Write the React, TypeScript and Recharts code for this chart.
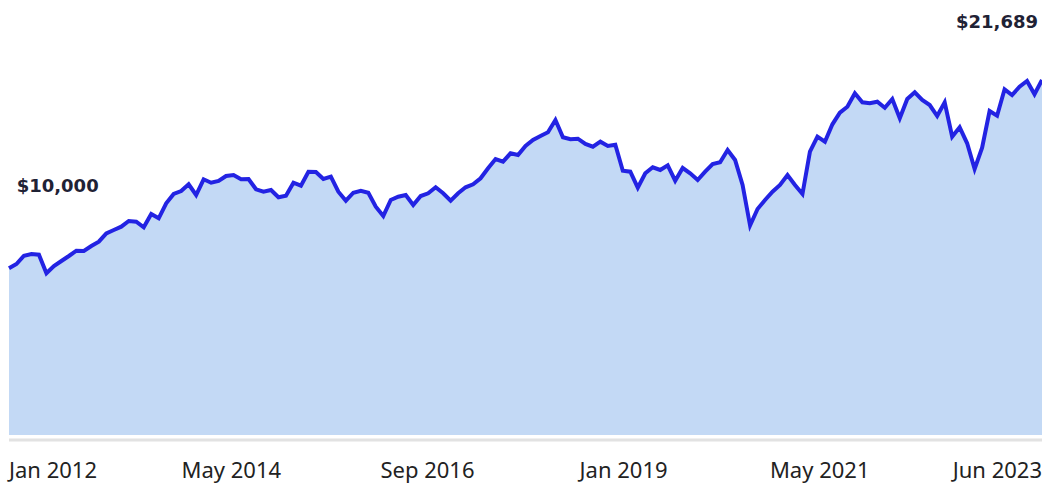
import React from "react";
import { AreaChart, Area, XAxis, YAxis } from "recharts";

// Growth of $10,000 (monthly values)
const VALUES: number[] = [
  10186, 10449, 10956, 11060, 11017, 9880, 10326, 10632, 10937, 11261,
  11250, 11548, 11811, 12324, 12526, 12728, 13076, 13033, 12691, 13504,
  13241, 14157, 14726, 14909, 15318, 14664, 15624, 15416, 15520, 15825,
  15886, 15624, 15642, 15013, 14866, 14970, 14524, 14622, 15416, 15233,
  16088, 16070, 15642, 15783, 14866, 14316, 14805, 14927, 14805, 13950,
  13381, 14359, 14561, 14664, 14053, 14603, 14768, 15135, 14768, 14316,
  14768, 15135, 15318, 15685, 16296, 16864, 16699, 17212, 17108, 17658,
  18025, 18269, 18495, 19247, 18190, 18068, 18104, 17781, 17616, 17921,
  17658, 17738, 16149, 16088, 15111, 15990, 16357, 16192, 16479, 15538,
  16314, 15990, 15581, 16088, 16559, 16662, 17414, 16803, 15275, 12801,
  13809, 14359, 14866, 15275, 15886, 15275, 14726, 17310, 18227, 17921,
  18984, 19693, 20060, 20878, 20328, 20267, 20365, 19999, 20530, 19351,
  20530, 20939, 20469, 20163, 19491, 20328, 18227, 18801, 17823, 16253,
  17555, 19797, 19510, 21123, 20774, 21282, 21630, 20817, 21689,
];

const TICK_POSITIONS: number[] = [0, 29.7, 55.9, 82.1, 108.3, 138];
const TICK_LABELS: string[] = ["Jan 2012", "May 2014", "Sep 2016", "Jan 2019", "May 2021", "Jun 2023"];

const START_LABEL = "$10,000";
const END_LABEL = "$21,689";

const data = VALUES.map((v, i) => ({ i, value: v }));

const W = 1042;
const H = 484;

function Tick(props: any) {
  const { x, y, payload } = props;
  const idx = TICK_POSITIONS.indexOf(payload.value);
  const anchor = idx === 0 ? "start" : idx === TICK_POSITIONS.length - 1 ? "end" : "middle";
  return (
    <text
      x={x}
      y={y + 38}
      textAnchor={anchor}
      fontFamily="'Noto Sans', sans-serif"
      fontSize={22}
      fill="#222222"
    >
      {TICK_LABELS[idx]}
    </text>
  );
}

export default function App() {
  return (
    <div style={{ position: "absolute", left: 0, top: 0, width: W, height: H, overflow: "hidden" }}>
      <AreaChart width={W} height={H} data={data} margin={{ top: 8, right: 0, bottom: 0, left: 9 }}>
        <XAxis
          dataKey="i"
          type="number"
          domain={[0, 138]}
          ticks={TICK_POSITIONS}
          interval={0}
          tickSize={0}
          tickMargin={0}
          tickLine={false}
          height={44}
          axisLine={{ stroke: "#e2e2e2", strokeWidth: 3 }}
          tick={<Tick />}
        />
        <YAxis type="number" domain={[-305, 26090]} allowDataOverflow hide />
        <Area
          type="linear"
          dataKey="value"
          stroke="#2323E3"
          strokeWidth={4}
          fill="#C3D9F5"
          fillOpacity={1}
          baseValue={0}
          isAnimationActive={false}
          dot={false}
          activeDot={false}
        />
      </AreaChart>
      <svg
        width={W}
        height={H}
        style={{ position: "absolute", left: 0, top: 0, pointerEvents: "none" }}
      >
        <text x={16.7} y={192} fontFamily="'DejaVu Sans', sans-serif" fontWeight="bold" fontSize={18} fill="#1f2235">
          {START_LABEL}
        </text>
        <text x={1038} y={28} textAnchor="end" fontFamily="'DejaVu Sans', sans-serif" fontWeight="bold" fontSize={18} fill="#1f2235">
          {END_LABEL}
        </text>
      </svg>
    </div>
  );
}
